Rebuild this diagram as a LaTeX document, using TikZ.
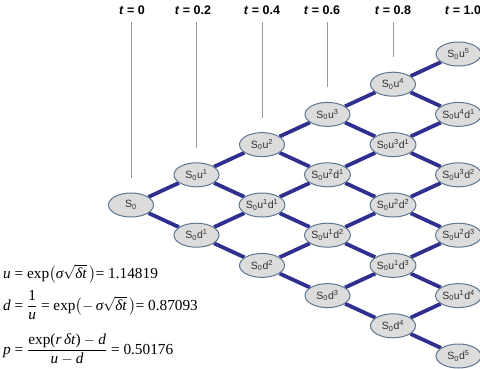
\documentclass[tikz,border=0pt]{standalone}
\usepackage{fontspec}
\usepackage{amsmath}
\setmainfont{Liberation Sans}
\newfontfamily\tmsfont{Liberation Serif}
\usetikzlibrary{backgrounds,shapes.geometric}
\definecolor{edgeblue}{HTML}{2E2F8E}
\definecolor{nodefill}{HTML}{DCDCDC}
\definecolor{nodeline}{HTML}{5E7690}
\definecolor{tline}{HTML}{9A9A9A}
\definecolor{txt}{HTML}{303030}
\tikzset{
  st/.style={ellipse, draw=nodeline, line width=1pt, fill=nodefill, minimum width=45pt, minimum height=24pt, inner sep=0pt, text=txt, font=\fontsize{10.5}{11}\selectfont},
  br/.style={draw=edgeblue, line width=3.8pt},
  tlab/.style={font=\fontsize{12.5}{14}\selectfont\bfseries, inner sep=1pt},
  tl/.style={draw=tline, line width=0.8pt},
  fml/.style={anchor=base west, inner sep=0pt, font=\tmsfont\fontsize{15.3}{17}\selectfont}
}
\begin{document}
\begin{tikzpicture}[x=1pt,y=-1pt]
\useasboundingbox (0,0) rectangle (480,368);
\foreach \i in {0,...,5} {
  \foreach \j in {0,...,\i} {
    \pgfmathtruncatemacro\nU{\i-\j}
    \node[st] (n\i\j) at ({131+65.5*\i},{205-30.2*(\i-2*\j)})
      {S\textsubscript{0}\ifnum\nU>0 u\textsuperscript{\nU}\fi\ifnum\j>0 d\textsuperscript{\j}\fi};
  }
}
\begin{scope}[on background layer]
\foreach \i in {0,...,4} {
  \foreach \j in {0,...,\i} {
    \pgfmathtruncatemacro\ni{\i+1}
    \pgfmathtruncatemacro\nj{\j+1}
    \draw[br] (n\i\j) -- (n\ni\j);
    \draw[br] (n\i\j) -- (n\ni\nj);
  }
}
\end{scope}
\foreach \i/\lab/\lx in {0/0/132,1/0.2/193,2/0.4/262,3/0.6/322,4/0.8/393,5/1.0/463} {
  \node[tlab] (t\i) at (\lx,10.5) {\textit{t} = \lab};
}
\foreach \i in {0,...,4} {
  \coordinate (ta\i) at ({131+65.5*\i},22);
  \coordinate (tb\i) at ({131+65.5*\i},{205-30.2*\i-27});
  \draw[tl] (ta\i) -- (tb\i);
}
\node[fml] (f1) at (3,278) {\textit{u} = exp\smash{\(\bigl(\textit{σ}\sqrt{\textit{δt}}\,\bigr)\)}= 1.14819};
\node[fml] (f2) at (3,310) {\textit{d} = \smash{\(\dfrac{\text{1}}{\textit{u}}\)} = exp\smash{\(\bigl(-\,\textit{σ}\sqrt{\textit{δt}}\,\bigr)\)}= 0.87093};
\node[fml] (f3) at (3,354) {\textit{p} = \smash{\(\dfrac{\text{exp(\textit{r\,δt})}-\textit{d}}{\textit{u}-\textit{d}}\)} = 0.50176};
\end{tikzpicture}
\end{document}
